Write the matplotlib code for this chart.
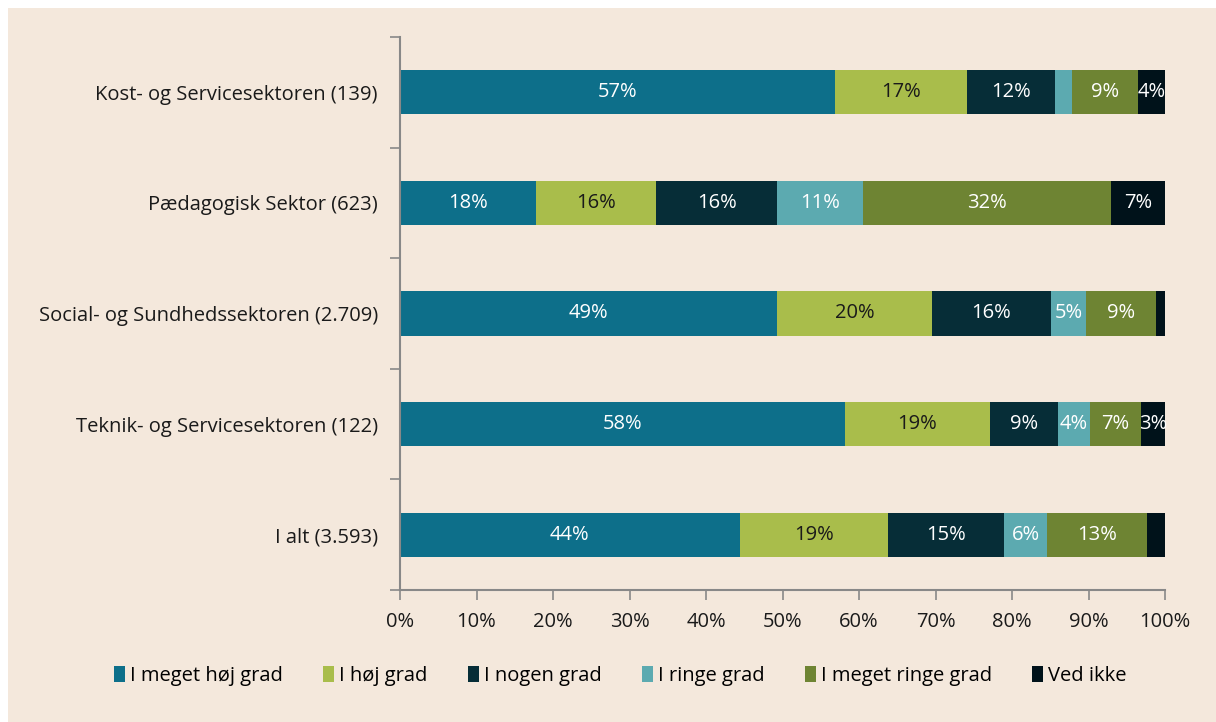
import matplotlib.pyplot as plt
import numpy as np

plt.rcParams['font.family'] = ['Open Sans', 'DejaVu Sans']

# Kategorier (oppefra og ned) og svarandele i procent
categories = ['Kost- og Servicesektoren (139)', 'Pædagogisk Sektor (623)',
              'Social- og Sundhedssektoren (2.709)', 'Teknik- og Servicesektoren (122)',
              'I alt (3.593)']
series_names = ['I meget høj grad', 'I høj grad', 'I nogen grad', 'I ringe grad',
                'I meget ringe grad', 'Ved ikke']
meget_hoj = [56.9, 17.8, 49.3, 58.2, 44.4]
hoj = [17.2, 15.7, 20.2, 18.9, 19.4]
nogen = [11.5, 15.8, 15.6, 8.9, 15.2]
ringe = [2.2, 11.2, 4.6, 4.2, 5.6]
meget_ringe = [8.7, 32.4, 9.1, 6.7, 13.0]
ved_ikke = [3.5, 7.1, 1.2, 3.1, 2.4]
x_ticks = [0, 10, 20, 30, 40, 50, 60, 70, 80, 90, 100]

colors = ['#0d6f8a', '#a9bd4b', '#062d37', '#5caab0', '#6e8433', '#00121a']
text_colors = ['white', '#1a1a1a', 'white', 'white', 'white', 'white']
bg = '#f4e8dc'
fs = 14.5

fig = plt.figure(figsize=(12.16, 7.22), dpi=100)
fig.patch.set_facecolor('white')
# beige baggrund med hvid kant øverst og til venstre
fig.patches.append(plt.Rectangle((8 / 1216, 0), 1, 1 - 8 / 722, transform=fig.transFigure,
                                 facecolor=bg, edgecolor='none', zorder=-1))

ax = fig.add_axes([400 / 1216, 1 - 590 / 722, 765 / 1216, 553 / 722])
ax.set_facecolor('none')

data = [meget_hoj, hoj, nogen, ringe, meget_ringe, ved_ikke]
y = np.arange(len(categories))[::-1]
left = np.zeros(len(categories))
for vals, name, col, tcol in zip(data, series_names, colors, text_colors):
    vals = np.array(vals)
    ax.barh(y, vals, left=left, height=0.4, color=col, label=name, edgecolor='none')
    for yi, l, v in zip(y, left, vals):
        if round(v) >= 3:
            ax.text(l + v / 2, yi, f'{round(v)}%', ha='center', va='center',
                    color=tcol, fontsize=fs)
    left += vals

ax.set_xlim(0, 100)
ax.set_ylim(-0.5, len(categories) - 0.5)
ax.set_xticks(x_ticks)
ax.set_xticklabels([f'{t}%' for t in x_ticks], fontsize=fs, color='#1a1a1a')
ax.set_yticks(np.arange(-0.5, len(categories)))
ax.set_yticklabels([])
ax.set_yticks(y, minor=True)
ax.set_yticklabels(categories, minor=True, fontsize=fs, color='#1a1a1a')
ax.tick_params(axis='y', which='minor', length=0, pad=16)
ax.tick_params(axis='y', which='major', length=7, width=1.2, color='#888888')
ax.tick_params(axis='x', length=7, width=1.2, color='#888888', pad=9)
for s in ['top', 'right']:
    ax.spines[s].set_visible(False)
for s in ['left', 'bottom']:
    ax.spines[s].set_color('#888888')
    ax.spines[s].set_linewidth(1.5)

fig.legend(loc='center', bbox_to_anchor=(0.51, 1 - 676 / 722), ncol=6, frameon=False,
           fontsize=fs, handlelength=0.55, handleheight=0.8, handletextpad=0.25,
           columnspacing=2.0)

fig.savefig('out.png', dpi=100)
